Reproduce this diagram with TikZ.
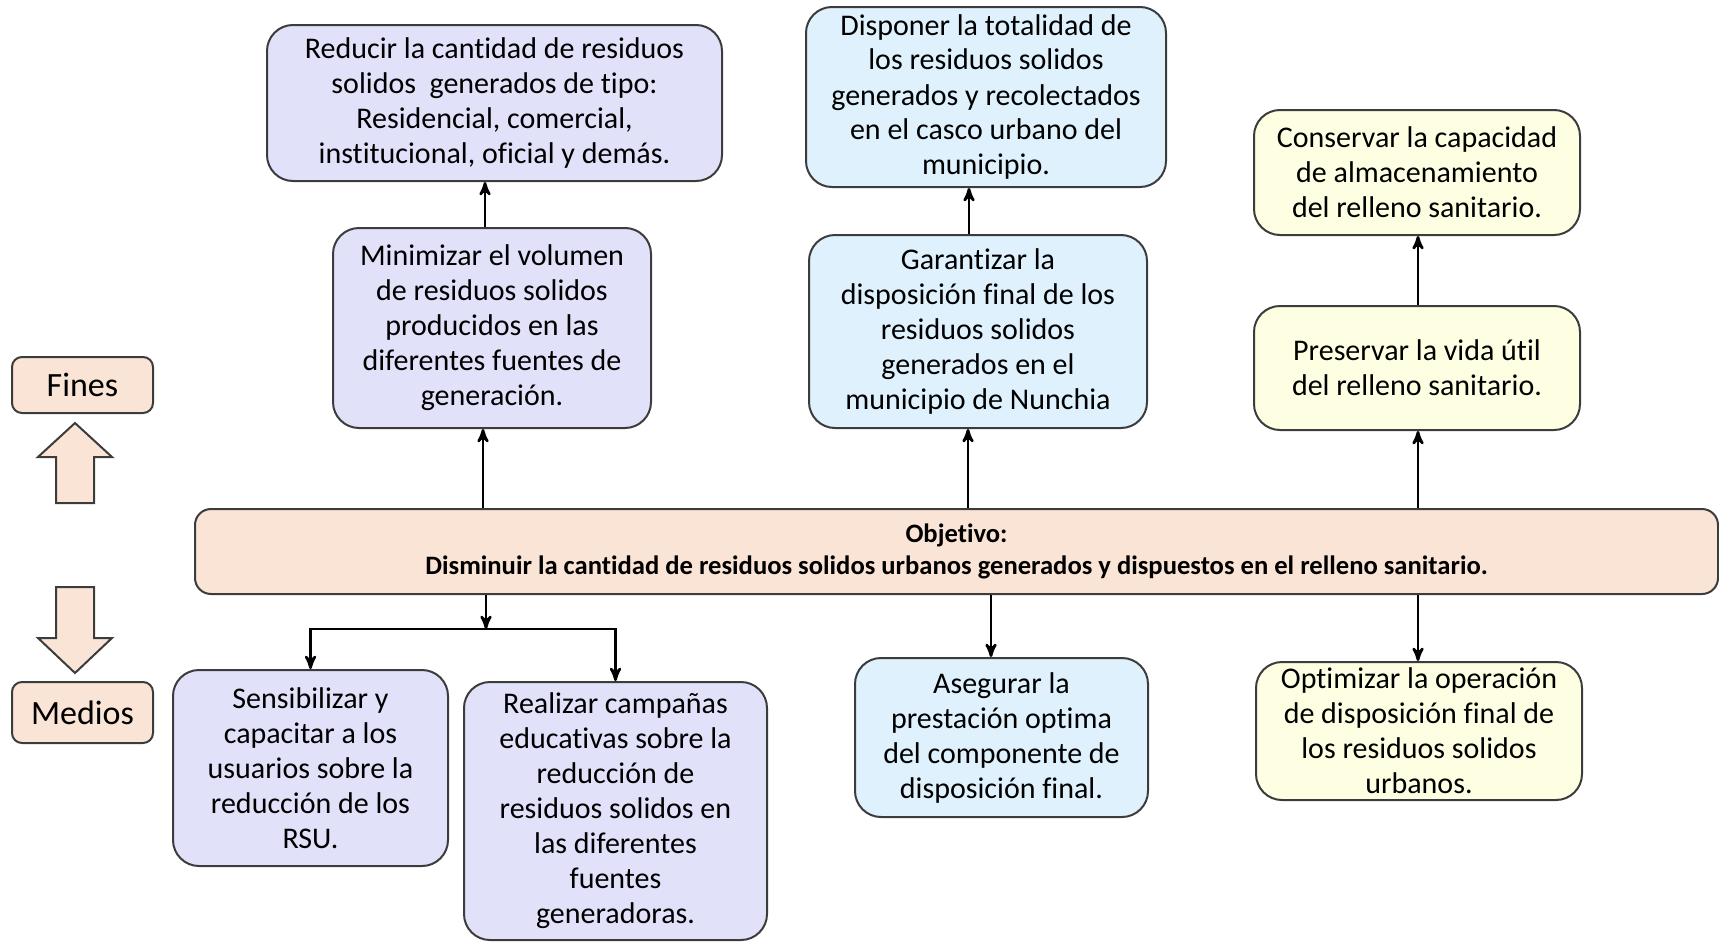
\documentclass[tikz,border=0pt]{standalone}
\usepackage{fontspec}
\setmainfont{Carlito}[Ligatures=NoCommon]
\usetikzlibrary{arrows}
\usepackage{xcolor}
\definecolor{lila}{RGB}{225,225,250}
\definecolor{celeste}{RGB}{222,241,253}
\definecolor{crema}{RGB}{254,254,226}
\definecolor{durazno}{RGB}{250,228,214}
\definecolor{borde}{RGB}{60,60,60}

\begin{document}
\begin{tikzpicture}[x=.5pt, y=-.5pt,
 caja/.style 2 args={draw=borde, line width=1pt, rounded corners=13pt, align=center, inner sep=0pt,
   minimum width=#1*.5pt, minimum height=#2*.5pt, font=\fontsize{15}{17.5}\selectfont},
 flecha/.style={black, line width=1.3pt, ->, >=stealth'}]
\useasboundingbox (0,0) rectangle (1719,942);

\node[caja={141}{56}, fill=durazno, rounded corners=5pt, font=\fontsize{17}{20}\selectfont] (fines) at (82.5,385) {Fines};
\node[caja={141}{61}, fill=durazno, rounded corners=5pt, font=\fontsize{17}{20}\selectfont] (medios) at (82.5,712.5) {Medios};
\draw[borde, fill=durazno, line width=1pt] (56,503) -- (56,457) -- (38,457) -- (75,423) -- (112,457) -- (94,457) -- (94,503) -- cycle;
\draw[borde, fill=durazno, line width=1pt] (56,587) -- (94,587) -- (94,638) -- (112,638) -- (75,673) -- (38,638) -- (56,638) -- cycle;

\node[caja={1523}{85}, fill=durazno, rounded corners=8pt, font=\bfseries\fontsize{13.3}{15.8}\selectfont] (obj) at (956.5,551.5)
 {Objetivo:\\Disminuir la cantidad de residuos solidos urbanos generados y dispuestos en el relleno sanitario.};

\node[caja={455}{156}, fill=lila] (reducir) at (494.5,103) {Reducir la cantidad de residuos\\solidos \ generados de tipo:\\Residencial, comercial,\\institucional, oficial y demás.};
\node[caja={318}{200}, fill=lila] (minimizar) at (492,328) {Minimizar el volumen\\de residuos solidos\\producidos en las\\diferentes fuentes de\\generación.};
\node[caja={360}{180}, fill=celeste] (disponer) at (986,97) {Disponer la totalidad de\\los residuos solidos\\generados y recolectados\\en el casco urbano del\\municipio.};
\node[caja={338}{193}, fill=celeste] (garantizar) at (978,331.5) {Garantizar la\\disposición final de los\\residuos solidos\\generados en el\\municipio de Nunchia};
\node[caja={326}{125}, fill=crema] (conservar) at (1417,172.5) {Conservar la capacidad\\de almacenamiento\\del relleno sanitario.};
\node[caja={326}{124}, fill=crema] (preservar) at (1417,368) {Preservar la vida útil\\del relleno sanitario.};

\node[caja={275}{196}, fill=lila] (sensib) at (310.5,768) {Sensibilizar y\\capacitar a los\\usuarios sobre la\\reducción de los\\RSU.};
\node[caja={303}{258}, fill=lila] (realizar) at (615.5,811) {Realizar campañas\\educativas sobre la\\reducción de\\residuos solidos en\\las diferentes\\fuentes\\generadoras.};
\node[caja={293}{159}, fill=celeste] (asegurar) at (1001.5,737.5) {Asegurar la\\prestación optima\\del componente de\\disposición final.};
\node[caja={326}{138}, fill=crema] (optimizar) at (1419,731) {Optimizar la operación\\de disposición final de\\los residuos solidos\\urbanos.};

\foreach \a/\b/\x in {obj/minimizar/483, minimizar/reducir/485, obj/garantizar/968, garantizar/disponer/969, obj/preservar/1418, preservar/conservar/1418}
 \draw[flecha] (\a.north -| \x,0) -- (\b.south -| \x,0);
\foreach \b/\x in {asegurar/991, optimizar/1418}
 \draw[flecha] (obj.south -| \x,0) -- (\b.north -| \x,0);

\coordinate (rama) at (486,629);
\draw[flecha] (obj.south -| rama) -- (rama);
\draw[flecha] (rama) -| (sensib);
\draw[flecha] (rama) -| (realizar);
\end{tikzpicture}
\end{document}
